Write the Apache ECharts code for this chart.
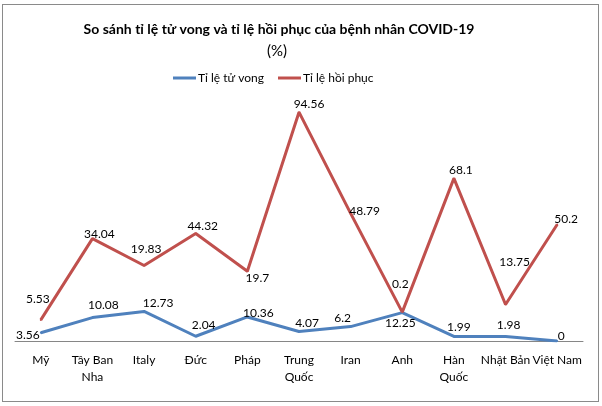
<!DOCTYPE html>
<html>
<head>
<meta charset="utf-8">
<script src="https://cdn.jsdelivr.net/npm/echarts@6/dist/echarts.min.js"></script>
<style>
  html, body { margin: 0; padding: 0; background: #fff; }
  #frame { position: absolute; left: 2px; top: 4px; width: 597px; height: 398px; border: 1px solid #8a8a8a; box-sizing: border-box; }
  #chart { position: absolute; left: 0; top: 0; width: 602px; height: 406px; }
</style>
</head>
<body>
<div id="frame"></div>
<div id="chart"></div>
<script>
// dữ liệu
var countries = ['Mỹ', 'Tây Ban Nha', 'Italy', 'Đức', 'Pháp', 'Trung Quốc', 'Iran', 'Anh', 'Hàn Quốc', 'Nhật Bản', 'Việt Nam'];
var deathRate = [3.56, 10.08, 12.73, 2.04, 10.36, 4.07, 6.2, 12.25, 1.99, 1.98, 0];
var recoveryRate = [5.53, 34.04, 19.83, 44.32, 19.7, 94.56, 48.79, 0.2, 68.1, 13.75, 50.2];

// vị trí nhãn (lệch so với điểm), giống bản Excel
var deathLabelOffset = [[-13, 2], [11, -12], [14, -8], [8, -11], [11, -4], [8, -8], [-8, -8], [-2, 11], [5, -9], [3, -11], [4, -5]];
var recoveryLabelOffset = [[-3, -21], [7, -5], [2, -16], [7, -7], [10, 7], [10, -8], [14, -2], [-2, -28], [7, -8], [9, -42], [9, -5]];

var wrapped = { 'Tây Ban Nha': 'Tây Ban\nNha', 'Trung Quốc': 'Trung\nQuốc', 'Hàn Quốc': 'Hàn\nQuốc' };
var FONT = 'Lato';

function withLabels(values, offsets) {
  return values.map(function (v, i) {
    return { value: v, label: { offset: offsets[i] } };
  });
}

var chart = echarts.init(document.getElementById('chart'), null, { renderer: 'canvas' });

var option = {
  backgroundColor: 'transparent',
  animation: false,
  textStyle: { fontFamily: FONT },
  graphic: [
    {
      type: 'text', x: 279, y: 29,
      style: { text: 'So sánh tỉ lệ tử vong và tỉ lệ hồi phục của bệnh nhân COVID-19', font: 'bold 14px Lato', fill: '#000', align: 'center', verticalAlign: 'middle' }
    },
    {
      type: 'text', x: 277, y: 51,
      style: { text: '(%)', font: '15px Lato', fill: '#000', align: 'center', verticalAlign: 'middle' }
    }
  ],
  legend: {
    left: 168, top: 67,
    icon: 'rect', itemWidth: 23, itemHeight: 3, itemGap: 14,
    textStyle: { fontFamily: FONT, fontSize: 12, color: '#000', padding: [0, 0, 0, -3] },
    data: ['Tỉ lệ tử vong', 'Tỉ lệ hồi phục']
  },
  grid: { left: 15, right: 19, top: 109, bottom: 65 },
  xAxis: {
    type: 'category',
    data: countries,
    axisLine: { lineStyle: { color: '#868686', width: 1 } },
    axisTick: { show: false },
    axisLabel: {
      interval: 0, margin: 11, fontFamily: FONT, fontSize: 12, color: '#000', lineHeight: 17,
      formatter: function (v) { return wrapped[v] || v; }
    }
  },
  yAxis: {
    type: 'value', min: 0, max: 100, show: false,
    splitLine: { show: false }
  },
  series: [
    {
      name: 'Tỉ lệ tử vong', type: 'line', stack: 'total',
      data: withLabels(deathRate, deathLabelOffset),
      symbol: 'circle', symbolSize: 2,
      itemStyle: { color: '#4F81BD' },
      lineStyle: { color: '#4F81BD', width: 3 },
      label: { show: true, position: 'inside', fontFamily: FONT, fontSize: 12, color: '#000' }
    },
    {
      name: 'Tỉ lệ hồi phục', type: 'line', stack: 'total',
      data: withLabels(recoveryRate, recoveryLabelOffset),
      symbol: 'circle', symbolSize: 2,
      itemStyle: { color: '#C0504D' },
      lineStyle: { color: '#C0504D', width: 3 },
      label: { show: true, position: 'inside', fontFamily: FONT, fontSize: 12, color: '#000' }
    }
  ]
};

chart.setOption(option);
</script>
</body>
</html>
